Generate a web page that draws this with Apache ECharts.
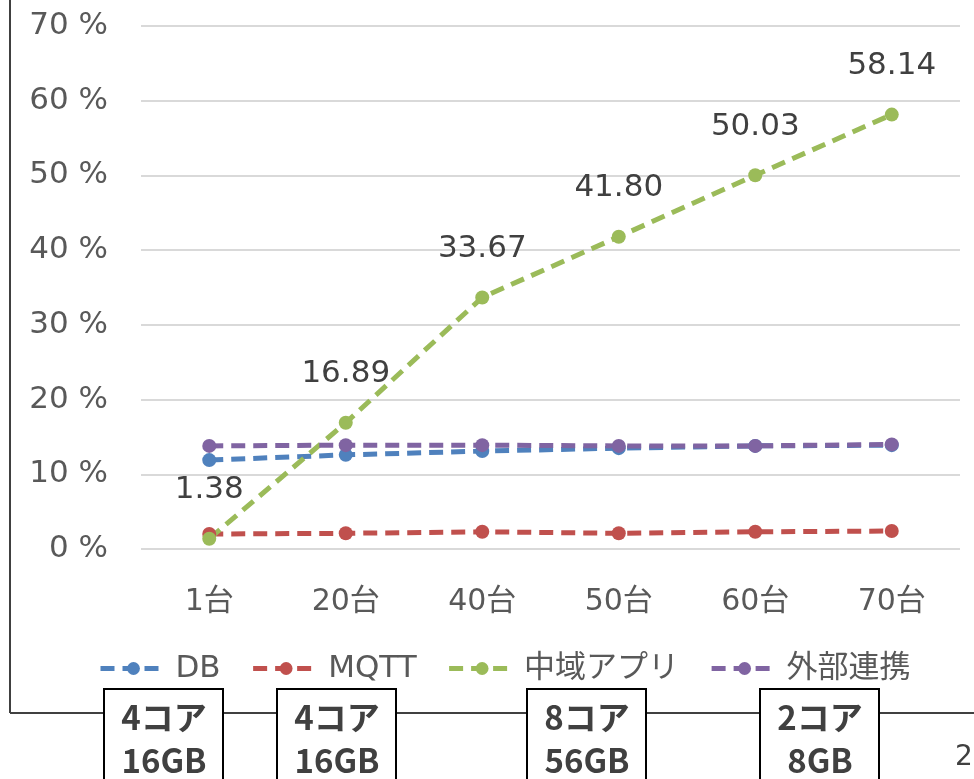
<!DOCTYPE html>
<html>
<head>
<meta charset="utf-8">
<script src="https://cdn.jsdelivr.net/npm/echarts@6/dist/echarts.min.js"></script>
<style>
  html, body { margin: 0; padding: 0; background: #fff; }
  #chart { width: 974px; height: 779px; }
</style>
</head>
<body>
<div id="chart"></div>
<script>
// Server count categories
const categories = ['1台', '20台', '40台', '50台', '60台', '70台'];

// CPU usage (%) per component
const dbValues       = [11.9, 12.6, 13.1, 13.5, 13.8, 13.9];
const mqttValues     = [2.0, 2.1, 2.3, 2.1, 2.3, 2.4];
const chuikiValues   = [1.38, 16.89, 33.67, 41.80, 50.03, 58.14];
const gaibuValues    = [13.8, 13.9, 13.9, 13.8, 13.8, 14.0];

const seriesNames = ['DB', 'MQTT', '中域アプリ', '外部連携'];
const seriesColors = ['#4f81bd', '#c0504d', '#9bbb59', '#8064a2'];

// Server spec boxes shown under the chart
const specLabels = ['4コア\n16GB', '4コア\n16GB', '8コア\n56GB', '2コア\n8GB'];
const specBoxX = [104, 277, 527, 760];

const latin = '"DejaVu Sans", "Noto Sans CJK JP", sans-serif';

function lineSeries(name, data, color, withLabels) {
  return {
    name: name,
    type: 'line',
    data: data,
    symbol: 'circle',
    symbolSize: 14,
    itemStyle: { color: color },
    lineStyle: { color: color, width: 5, type: [14, 8] },
    label: withLabels ? {
      show: true,
      position: 'top',
      distance: 26,
      color: '#404040',
      fontSize: 31,
      fontFamily: latin,
      formatter: p => p.value.toFixed(2)
    } : { show: false },
    z: 3
  };
}

const chart = echarts.init(document.getElementById('chart'), null, { renderer: 'canvas' });

const graphics = [
  { type: 'line', shape: { x1: 10, y1: 0, x2: 10, y2: 713 }, style: { stroke: '#404040', lineWidth: 2 }, z: 1 },
  { type: 'line', shape: { x1: 10, y1: 713, x2: 974, y2: 713 }, style: { stroke: '#404040', lineWidth: 2 }, z: 1 },
  { type: 'text', left: 955, top: 744, style: { text: '2', fontSize: 28, fill: '#404040', fontFamily: latin }, z: 5 }
];
specLabels.forEach((t, i) => {
  graphics.push({
    type: 'rect',
    shape: { x: specBoxX[i], y: 689, width: 119, height: 100 },
    style: { fill: '#fff', stroke: '#000', lineWidth: 2 },
    z: 10
  });
  graphics.push({
    type: 'text',
    x: specBoxX[i] + 60,
    y: 739,
    style: {
      text: t,
      fontSize: 33,
      fontWeight: 'bold',
      fill: '#404040',
      align: 'center',
      verticalAlign: 'middle',
      lineHeight: 43,
      fontFamily: '"Noto Sans CJK JP", "DejaVu Sans", sans-serif'
    },
    z: 11
  });
});

chart.setOption({
  backgroundColor: '#fff',
  animation: false,
  grid: { left: 141, right: 14, top: 26, bottom: 230, containLabel: false },
  legend: {
    top: 653,
    left: 98,
    padding: 0,
    itemWidth: 66,
    itemHeight: 16,
    itemGap: 30,
    lineStyle: { width: 5 },
    textStyle: { fontSize: 31, color: '#595959', fontFamily: latin, padding: [0, 0, 0, 4] },
    data: seriesNames
  },
  xAxis: {
    type: 'category',
    data: categories,
    boundaryGap: true,
    axisLine: { show: false },
    axisTick: { show: false },
    axisLabel: { color: '#595959', fontSize: 30, margin: 38, fontFamily: latin }
  },
  yAxis: {
    type: 'value',
    min: 0,
    max: 70,
    interval: 10,
    axisLine: { show: false },
    axisTick: { show: false },
    axisLabel: { color: '#595959', fontSize: 31, margin: 33, formatter: '{value} %', fontFamily: latin },
    splitLine: { lineStyle: { color: '#d9d9d9', width: 2 } }
  },
  graphic: graphics,
  series: [
    lineSeries(seriesNames[0], dbValues, seriesColors[0], false),
    lineSeries(seriesNames[1], mqttValues, seriesColors[1], false),
    lineSeries(seriesNames[2], chuikiValues, seriesColors[2], true),
    lineSeries(seriesNames[3], gaibuValues, seriesColors[3], false)
  ]
});
</script>
</body>
</html>
